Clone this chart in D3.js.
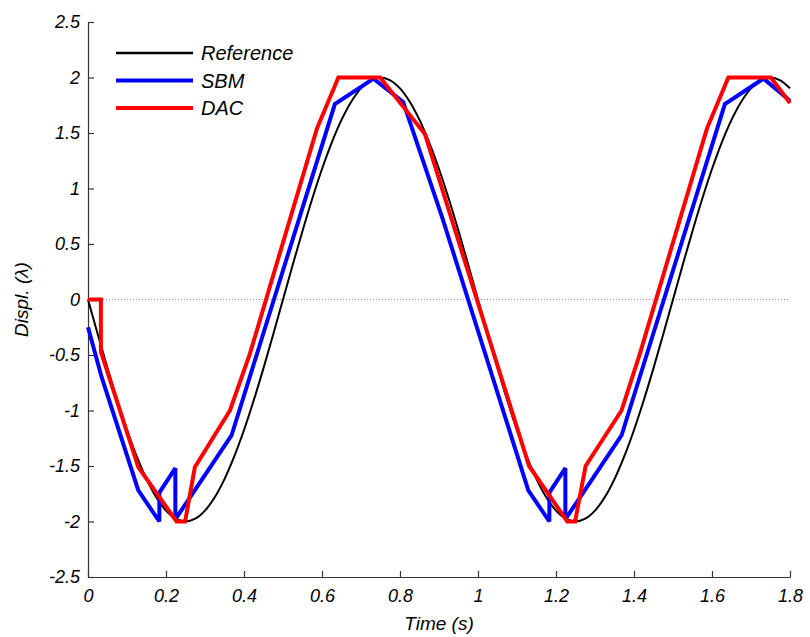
<!DOCTYPE html>
<html>
<head>
<meta charset="utf-8">
<script src="https://cdn.jsdelivr.net/npm/d3@7"></script>
<style>
  html, body { margin: 0; padding: 0; background: #fff; }
  svg { display: block; }
  text { font-family: "Liberation Sans", Arial, sans-serif; font-style: italic; fill: #000; }
</style>
</head>
<body>
<svg id="chart" width="810" height="637"></svg>
<script>
// ---------- data ----------
const refTime = [0,0.025,0.05,0.075,0.1,0.125,0.15,0.175,0.2,0.225,0.25,0.275,0.3,0.325,0.35,0.375,0.4,0.425,0.45,0.475,
  0.5,0.525,0.55,0.575,0.6,0.625,0.65,0.675,0.7,0.725,0.75,0.775,0.8,0.825,0.85,0.875,0.9,0.925,0.95,0.975,
  1.0,1.025,1.05,1.075,1.1,1.125,1.15,1.175,1.2,1.225,1.25,1.275,1.3,1.325,1.35,1.375,1.4,1.425,1.45,1.475,
  1.5,1.525,1.55,1.575,1.6,1.625,1.65,1.675,1.7,1.725,1.75,1.775,1.8];
const refDispl = [0,-0.313,-0.618,-0.908,-1.176,-1.414,-1.618,-1.782,-1.902,-1.975,-2.0,-1.975,-1.902,-1.782,-1.618,-1.414,-1.176,-0.908,-0.618,-0.313,
  0,0.313,0.618,0.908,1.176,1.414,1.618,1.782,1.902,1.975,2.0,1.975,1.902,1.782,1.618,1.414,1.176,0.908,0.618,0.313,
  0,-0.313,-0.618,-0.908,-1.176,-1.414,-1.618,-1.782,-1.902,-1.975,-2.0,-1.975,-1.902,-1.782,-1.618,-1.414,-1.176,-0.908,-0.618,-0.313,
  0,0.313,0.618,0.908,1.176,1.414,1.618,1.782,1.902,1.975,2.0,1.975,1.902];

const sbmTime  = [0,0.035,0.129,0.183,0.183,0.224,0.224,0.368,0.633,0.732,0.808,0.91,1.129,1.183,1.183,1.224,1.224,1.368,1.633,1.732,1.8];
const sbmDispl = [-0.25,-0.70,-1.72,-2.0,-1.74,-1.52,-1.98,-1.225,1.76,1.99,1.78,0.72,-1.72,-2.0,-1.74,-1.52,-1.98,-1.225,1.76,1.99,1.79];

const dacTime  = [0,0.033,0.033,0.129,0.227,0.249,0.274,0.364,0.415,0.587,0.642,0.749,0.864,1.131,1.229,1.249,1.276,1.368,1.415,1.587,1.642,1.751,1.8];
const dacDispl = [0,0,-0.47,-1.51,-2.0,-2.0,-1.51,-1.0,-0.49,1.54,2.0,2.0,1.49,-1.5,-2.0,-2.0,-1.5,-1.0,-0.49,1.54,2.0,2.0,1.77];

const xTicks = [0,0.2,0.4,0.6,0.8,1,1.2,1.4,1.6,1.8];
const yTicks = [-2.5,-2,-1.5,-1,-0.5,0,0.5,1,1.5,2,2.5];
const seriesNames = ["Reference","SBM","DAC"];
const seriesColors = ["#000000","#0000ff","#ff0000"];

// ---------- layout ----------
const M = {left: 88, right: 790, top: 22, bottom: 577};
const svg = d3.select("#chart");
const x = d3.scaleLinear().domain([0, 1.8]).range([M.left, M.right]);
const y = d3.scaleLinear().domain([-2.5, 2.5]).range([M.bottom, M.top]);

// zero dotted line
svg.append("line")
  .attr("x1", x(0)).attr("x2", x(1.8))
  .attr("y1", y(0)).attr("y2", y(0))
  .attr("stroke", "#888").attr("stroke-width", 1)
  .attr("stroke-dasharray", "1,2");

// axes
const fmt = d => String(d);
const xAxis = d3.axisBottom(x).tickValues(xTicks).tickFormat(fmt).tickSizeInner(-6).tickSizeOuter(0).tickPadding(12);
const yAxis = d3.axisLeft(y).tickValues(yTicks).tickFormat(fmt).tickSizeInner(-6).tickSizeOuter(0).tickPadding(8);

const gx = svg.append("g").attr("transform", `translate(0,${M.bottom})`).call(xAxis);
const gy = svg.append("g").attr("transform", `translate(${M.left},0)`).call(yAxis);
[gx, gy].forEach(g => {
  g.select(".domain").attr("stroke", "#333").attr("stroke-width", 1.2);
  g.selectAll(".tick line").attr("stroke", "#333").attr("stroke-width", 1.2);
  g.selectAll("text").attr("font-family", "Liberation Sans, Arial, sans-serif")
    .attr("font-style", "italic").attr("font-size", 18).attr("fill", "#000");
});

// axis titles
svg.append("text").attr("x", (M.left + M.right) / 2).attr("y", 630)
  .attr("text-anchor", "middle").attr("font-size", 19).text("Time (s)");
svg.append("text").attr("transform", `translate(28,${y(0)}) rotate(-90)`)
  .attr("text-anchor", "middle").attr("font-size", 19).text("Displ. (λ)");

// lines
const line = d3.line().x(d => x(d[0])).y(d => y(d[1]));
const smooth = d3.line().x(d => x(d[0])).y(d => y(d[1])).curve(d3.curveCatmullRom);

svg.append("path").datum(refTime.map((t, i) => [t, refDispl[i]]))
  .attr("d", smooth).attr("fill", "none").attr("stroke", seriesColors[0]).attr("stroke-width", 2);
svg.append("path").datum(sbmTime.map((t, i) => [t, sbmDispl[i]]))
  .attr("d", line).attr("fill", "none").attr("stroke", seriesColors[1]).attr("stroke-width", 4)
  .attr("stroke-linejoin", "miter").attr("stroke-miterlimit", 2);
svg.append("path").datum(dacTime.map((t, i) => [t, dacDispl[i]]))
  .attr("d", line).attr("fill", "none").attr("stroke", seriesColors[2]).attr("stroke-width", 4)
  .attr("stroke-linejoin", "miter").attr("stroke-miterlimit", 2);

// legend
const lg = svg.append("g");
seriesNames.forEach((name, i) => {
  const cy = 53 + i * 27.5;
  lg.append("line").attr("x1", 116).attr("x2", 193).attr("y1", cy).attr("y2", cy)
    .attr("stroke", seriesColors[i]).attr("stroke-width", i === 0 ? 2.5 : 4);
  lg.append("text").attr("x", 201).attr("y", cy + 7).attr("font-size", 20).text(name);
});
</script>
</body>
</html>
